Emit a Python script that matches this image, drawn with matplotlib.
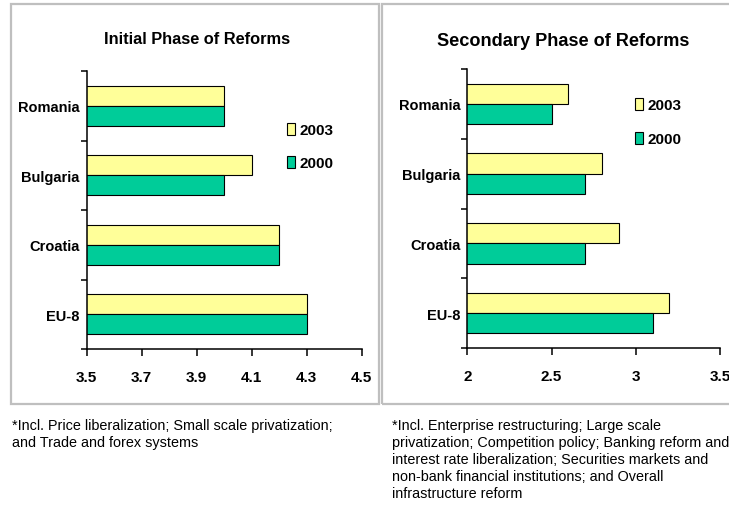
import matplotlib
matplotlib.use('Agg')
import matplotlib.pyplot as plt
from matplotlib.patches import Rectangle
import numpy as np

plt.rcParams.update({'font.family': ['Liberation Sans', 'DejaVu Sans']})

# DATA
countries = ['Romania', 'Bulgaria', 'Croatia', 'EU-8']
initial_2003 = [4.0, 4.1, 4.2, 4.3]
initial_2000 = [4.0, 4.0, 4.2, 4.3]
secondary_2003 = [2.6, 2.8, 2.9, 3.2]
secondary_2000 = [2.5, 2.7, 2.7, 3.1]
initial_ticks = [3.5, 3.7, 3.9, 4.1, 4.3, 4.5]
secondary_ticks = [2, 2.5, 3, 3.5]
secondary_ticklabels = ['2', '2.5', '3', '3.5']

note_left = ("*Incl. Price liberalization; Small scale privatization;\n"
             "and Trade and forex systems")
note_right = ("*Incl. Enterprise restructuring; Large scale\n"
              "privatization; Competition policy; Banking reform and\n"
              "interest rate liberalization; Securities markets and\n"
              "non-bank financial institutions; and Overall\n"
              "infrastructure reform")

YELLOW = '#FFFF99'
TEAL = '#00CC99'

W, H = 729, 506
fig = plt.figure(figsize=(W / 100, H / 100), dpi=100)


def fx(px):
    return px / W


def fy(py):
    return 1 - py / H


# GRAY PANEL BORDERS
for x0, x1 in [(11, 379), (382, 745)]:
    fig.patches.append(Rectangle((fx(x0), fy(405)), fx(x1 - x0), (405 - 5) / H,
                                 transform=fig.transFigure, fill=False,
                                 edgecolor='#BFBFBF', linewidth=1.6))


def panel(rect, v03, v00, xmin, xmax, ticks, ticklabels, title, title_xy, title_size, leg_xy):
    ax = fig.add_axes(rect)
    y = np.arange(len(countries))
    h = 0.29
    b03 = ax.barh(y - h / 2, v03, height=h, left=0, color=YELLOW, edgecolor='black', linewidth=0.8, label='2003')
    b00 = ax.barh(y + h / 2, v00, height=h, left=0, color=TEAL, edgecolor='black', linewidth=0.8, label='2000')
    ax.set_xlim(xmin, xmax)
    ax.set_ylim(len(countries) - 0.5, -0.5)

    ax.set_xticks(ticks)
    ax.set_xticklabels(ticklabels, fontsize=11, fontweight='bold')
    ax.set_yticks(y)
    ax.set_yticklabels(countries, fontsize=10.5, fontweight='bold')
    ax.set_yticks(np.arange(len(countries) + 1) - 0.5, minor=True)

    ax.tick_params(axis='y', which='major', length=0, pad=5)
    ax.tick_params(axis='y', which='minor', length=4, width=1.1, direction='out')
    ax.tick_params(axis='x', length=5, width=1.1, direction='out', pad=10)

    for s in ['top', 'right']:
        ax.spines[s].set_visible(False)
    for s in ['left', 'bottom']:
        ax.spines[s].set_linewidth(1.1)

    fig.text(fx(title_xy[0]), fy(title_xy[1]), title, ha='center', va='center',
             fontsize=title_size, fontweight='bold')

    ax.legend([b03, b00], ['2003', '2000'], loc='center left',
              bbox_to_anchor=(fx(leg_xy[0]), fy(leg_xy[1])), bbox_transform=fig.transFigure,
              frameon=False, borderpad=0, borderaxespad=0,
              handlelength=0.52, handleheight=0.85, handletextpad=0.3, labelspacing=1.25,
              prop={'weight': 'bold', 'size': 11})
    return ax


panel([fx(86.7), fy(350), fx(361.7 - 86.7), (350 - 72) / H],
      initial_2003, initial_2000, 3.5, 4.5, initial_ticks,
      ['%.1f' % t for t in initial_ticks],
      'Initial Phase of Reforms', (197, 40), 11.8, (287, 147.5))

panel([fx(467.3), fy(349), fx(720 - 467.3), (349 - 70) / H],
      secondary_2003, secondary_2000, 2, 3.5, secondary_ticks,
      secondary_ticklabels,
      'Secondary Phase of Reforms', (563, 41), 13.1, (635, 123))

# FOOTNOTES
fig.text(fx(12), fy(419), note_left, ha='left', va='top', fontsize=10.4,
         linespacing=1.27)
fig.text(fx(392), fy(419), note_right, ha='left', va='top', fontsize=10.4,
         linespacing=1.27)

fig.savefig('out.png', dpi=100)
